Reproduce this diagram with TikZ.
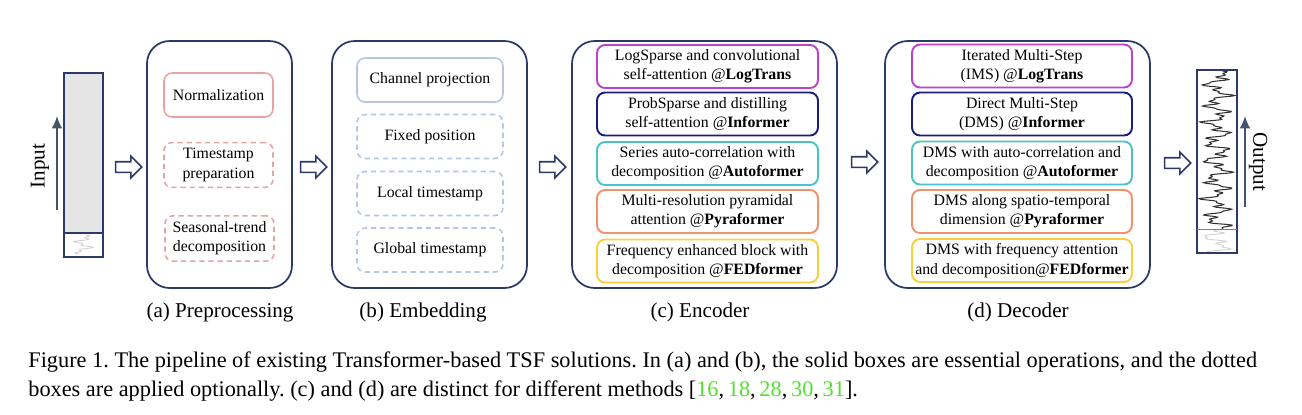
\documentclass[tikz,border=0pt]{standalone}
\usepackage{fontspec}
\setmainfont{Liberation Serif}
\usetikzlibrary{shapes.arrows,arrows.meta}
\definecolor{navy}{HTML}{2B3A67}
\definecolor{slate}{HTML}{44546A}
\definecolor{pinkline}{HTML}{E6A3A3}
\definecolor{blueline}{HTML}{B4C7E7}
\definecolor{magline}{HTML}{C03FCB}
\definecolor{inkline}{HTML}{1C1C7E}
\definecolor{tealline}{HTML}{4CC2C2}
\definecolor{orangeline}{HTML}{F2926C}
\definecolor{goldline}{HTML}{F7D03C}
\definecolor{citegreen}{HTML}{55DD33}
\newcommand{\cit}[1]{\textcolor{citegreen}{#1}}
\tikzset{
  stage/.style={draw=navy, line width=1pt, rounded corners=0.45cm, minimum height=4.94cm},
  opbox/.style={line width=0.9pt, rounded corners=0.16cm, minimum height=0.88cm, align=center,
    font=\fontsize{9}{11}\selectfont},
  prebox/.style={opbox, draw=pinkline, minimum width=2.18cm},
  embbox/.style={opbox, draw=blueline, minimum width=2.92cm},
  optional/.style={dash pattern=on 3pt off 2.2pt},
  methbox/.style={opbox, line width=1.1pt, minimum height=0.86cm, inner sep=1pt},
  encbox/.style={methbox, minimum width=4.42cm},
  decbox/.style={methbox, minimum width=4.4cm},
  flow/.style={single arrow, draw=navy, line width=0.9pt, fill=white, inner sep=0.09cm,
    single arrow head extend=0.11cm, minimum height=0.52cm},
  caption/.style={font=\fontsize{12}{14}\selectfont},
  figtext/.style={anchor=base west, inner sep=0pt, font=\fontsize{12.7}{16.5}\selectfont\frenchspacing}
}
\begin{document}
\begin{tikzpicture}[x=0.02cm, y=-0.02cm]
  \useasboundingbox (0,0) rectangle (1302,414);

  \fill[gray!20] (64,73) rectangle (103,233);
  \draw[gray!35, line width=0.5pt] plot[domain=0:19, samples=30, smooth]
    ({83+6*sin(\x*37)+4*sin(\x*91+40)}, {235+\x});
  \draw[navy, line width=1pt] (64,73) rectangle (103,257);
  \draw[navy, line width=0.8pt] (64,233) -- (103,233);
  \coordinate (ina) at (57,210);
  \coordinate (inb) at (57,116);
  \draw[slate, line width=0.9pt, -{Latex[length=7pt, width=6pt]}] (ina) -- (inb);
  \node[rotate=90, caption] (in) at (40,166) {Input};

  \node[flow] (arr1) at (126,167) {};

  \node[stage, minimum width=2.9cm] (pre) at (219.5,164.5) {};
  \node[prebox] (p1) at (218.5,95) {Normalization};
  \node[prebox, optional] (p2) at (218.5,165) {Timestamp\\preparation};
  \node[prebox, optional] (p3) at (219.5,238.5) {Seasonal-trend\\decomposition};
  \node[caption] (lpre) at (220,312) {(a) Preprocessing};

  \node[flow] (arr2) at (311,167) {};

  \node[stage, minimum width=3.9cm] (emb) at (429.5,164.5) {};
  \node[embbox] (e1) at (430,80) {Channel projection};
  \node[embbox, optional] (e2) at (430,136.5) {Fixed position};
  \node[embbox, optional] (e3) at (430,193.5) {Local timestamp};
  \node[embbox, optional] (e4) at (430,250) {Global timestamp};
  \node[caption] (lemb) at (423,312) {(b) Embedding};

  \node[flow] (arr3) at (550,167) {};

  \node[stage, minimum width=5.3cm] (enc) at (704.5,164.5) {};
  \node[encbox, draw=magline] (c1) at (707.5,66.5) {LogSparse and convolutional\\self-attention @\textbf{LogTrans}};
  \node[encbox, draw=inkline] (c2) at (707.5,114) {ProbSparse and distilling\\self-attention @\textbf{Informer}};
  \node[encbox, draw=tealline] (c3) at (707.5,163.5) {Series auto-correlation with\\decomposition @\textbf{Autoformer}};
  \node[encbox, draw=orangeline] (c4) at (707.5,211.5) {Multi-resolution pyramidal\\attention @\textbf{Pyraformer}};
  \node[encbox, draw=goldline] (c5) at (707.5,261) {Frequency enhanced block with\\decomposition @\textbf{FEDformer}};
  \node[caption] (lenc) at (700,312) {(c) Encoder};

  \node[flow] (arr4) at (862,162) {};

  \node[stage, minimum width=5.3cm] (dec) at (1017.5,164.5) {};
  \node[decbox, draw=magline] (d1) at (1022,66) {Iterated Multi-Step\\(IMS) @\textbf{LogTrans}};
  \node[decbox, draw=inkline] (d2) at (1022,114) {Direct Multi-Step\\(DMS) @\textbf{Informer}};
  \node[decbox, draw=tealline] (d3) at (1022,163) {DMS with auto-correlation and\\decomposition @\textbf{Autoformer}};
  \node[decbox, draw=orangeline] (d4) at (1022,211.5) {DMS along spatio-temporal\\dimension @\textbf{Pyraformer}};
  \node[decbox, draw=goldline] (d5) at (1022,260.5) {DMS with frequency attention\\and decomposition@\textbf{FEDformer}};
  \node[caption] (ldec) at (1018,312) {(d) Decoder};

  \node[flow] (arr5) at (1175,163) {};

  \draw[black!80, line width=0.6pt] plot[domain=0:158, samples=240]
    ({1217+8*sin(\x*19)+6*sin(\x*47+20)+4*sin(\x*89+60)}, {71+\x});
  \draw[gray!35, line width=0.5pt] plot[domain=158:181, samples=40]
    ({1217+8*sin(\x*19)+6*sin(\x*47+20)+4*sin(\x*89+60)}, {71+\x});
  \draw[navy, line width=1pt] (1197,70) rectangle (1237,253);
  \draw[gray, line width=0.5pt] (1197,229) -- (1237,229);
  \coordinate (outa) at (1245,207);
  \coordinate (outb) at (1245,116);
  \draw[slate, line width=0.9pt, -{Latex[length=7pt, width=6pt]}] (outa) -- (outb);
  \node[rotate=-90, caption] (out) at (1258,162) {Output};

  \node[figtext] (cap1) at (28,367)
    {Figure 1. The pipeline of existing Transformer-based TSF solutions. In (a) and (b), the solid boxes are essential operations, and the dotted};
  \node[figtext] (cap2) at (28,396)
    {boxes are applied optionally. (c) and (d) are distinct for different methods [\cit{16},\,\cit{18},\,\cit{28},\,\cit{30},\,\cit{31}].};
\end{tikzpicture}
\end{document}
